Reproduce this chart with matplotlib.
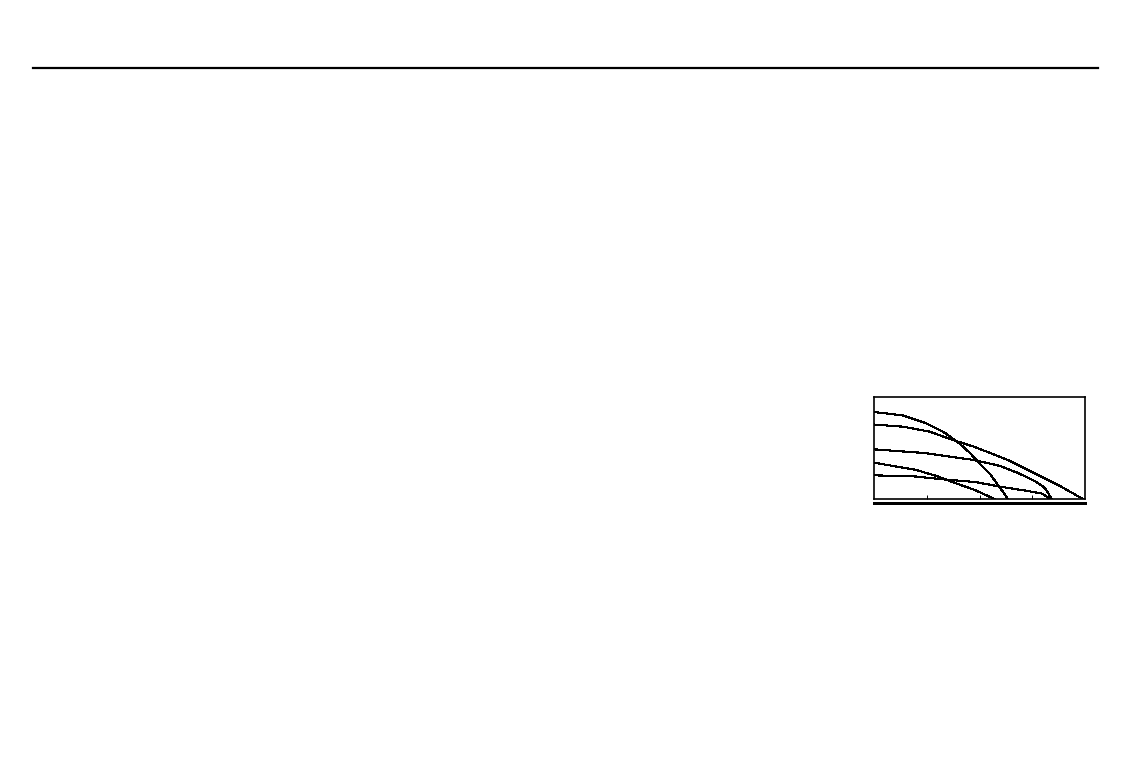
import numpy as np
import matplotlib
matplotlib.use("Agg")
import matplotlib.pyplot as plt
from matplotlib.lines import Line2D

# head vs flow curves (x in tick units, y in % of box height)
flow_a = [0.0, 0.55, 1.0, 1.35, 1.63, 1.82, 2.01, 2.2, 2.35, 2.46, 2.54]
head_a = [85.3, 81.9, 74.0, 64.7, 53.9, 45.1, 34.3, 24.5, 13.7, 5.9, 0.0]

flow_b = [0.0, 0.55, 1.06, 1.44, 1.91, 2.54, 3.18, 3.56, 3.96]
head_b = [73.0, 70.9, 66.0, 58.8, 51.0, 38.2, 21.6, 11.8, 0.0]

flow_c = [0.0, 0.95, 1.9, 2.39, 2.73, 3.05, 3.24, 3.37]
head_c = [48.7, 45.1, 38.2, 32.4, 25.5, 17.6, 10.8, 0.0]

flow_d = [0.0, 0.78, 1.16, 1.54, 1.91, 2.29]
head_d = [35.6, 28.7, 23.0, 15.7, 8.8, 0.0]

flow_e = [0.0, 0.78, 1.35, 1.91, 2.43, 2.86, 3.18, 3.34]
head_e = [23.2, 22.1, 19.1, 16.7, 11.8, 8.3, 5.4, 0.0]

curves = [(flow_a, head_a), (flow_b, head_b), (flow_c, head_c),
          (flow_d, head_d), (flow_e, head_e)]
xticks = [1, 2, 3]

W, H = 1128, 768
fig = plt.figure(figsize=(W / 100, H / 100), dpi=100)
fig.patch.set_facecolor("white")

# horizontal rule across the top of the page
fig.add_artist(Line2D([33 / W, 1098 / W], [1 - 68 / H, 1 - 68 / H],
                      color="black", lw=1.6, transform=fig.transFigure))

# small inset chart
ax = fig.add_axes([874 / W, 1 - 499 / H, 211 / W, 102 / H])
for fx, hy in curves:
    ax.plot(fx, hy, color="black", lw=0.8, antialiased=False)

ax.set_xlim(0, 4)
ax.set_ylim(0, 100)
ax.set_xticks(xticks)
ax.set_xticklabels([])
ax.set_yticks([])
ax.tick_params(axis="x", direction="in", length=3, width=0.7)
for s in ax.spines.values():
    s.set_linewidth(1.2)
    s.set_color("black")

# second line just under the inset's bottom edge
ax.plot([0, 4], [-4.2, -4.2], color="black", lw=0.9, clip_on=False,
        antialiased=False)

fig.savefig("out.png", dpi=100, facecolor="white")
